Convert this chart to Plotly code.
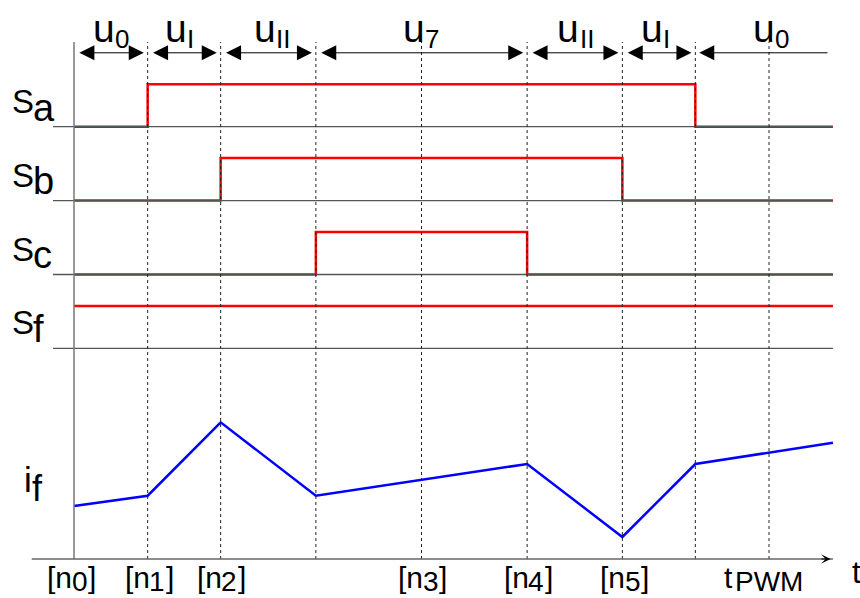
import plotly.graph_objects as go

# ---- data -------------------------------------------------------------
# switching instants over one PWM period, normalised so that t_PWM = 1
t_pts = [0.0, 0.106, 0.211, 0.348, 0.652, 0.789, 0.894, 1.0, 1.092]
t_n3 = 0.5
t_pwm = 1.0

# gate states (0 = off, 1 = on) held from each instant to the next
s_a = [0, 1, 1, 1, 1, 1, 0, 0, 0]
s_b = [0, 0, 1, 1, 1, 0, 0, 0, 0]
s_c = [0, 0, 0, 1, 0, 0, 0, 0, 0]
s_f = [1, 1, 1, 1, 1, 1, 1, 1, 1]

# filter current at the same instants (arbitrary units)
i_f = [5.3, 6.33, 13.67, 6.33, 9.5, 2.2, 9.5, 10.67, 11.63]

signal_subs = ["a", "b", "c", "f"]
vector_subs = ["0", "I", "II", "7", "II", "I", "0"]
sample_subs = ["0", "1", "2", "3", "4", "5"]
sample_t = [0.0, 0.106, 0.211, 0.5, 0.652, 0.789]

# ---- layout constants -------------------------------------------------
W, H = 860, 598
X0_PX, PX_PER_T = 74.0, 695.0          # t = 0 position and scale
TRACK_PX, BASE4_PX = 73.9, 126.7       # track spacing, S_a baseline
HIGH = 0.575                            # logic-high height in track units
AXIS_PX, I_PX = 559.0, 10.0            # time-axis row, px per current unit

x_range = [-X0_PX / PX_PER_T, (W - X0_PX) / PX_PER_T]
y_range = [4 - (H - BASE4_PX) / TRACK_PX, 4 + BASE4_PX / TRACK_PX]
y2_range = [(AXIS_PX - H) / I_PX, AXIS_PX / I_PX]

levels = [4, 3, 2, 1]
states = [s_a, s_b, s_c, s_f]
ROW_ARROW = 5.0
FRAME_TOP = (AXIS_PX - 42.0) / I_PX     # top of the vertical guide lines (y2)
BASE_START = -21.0 / PX_PER_T
AXIS_START = -42.3 / PX_PER_T
t_end = t_pts[-1]

RED, BLUE = "#ff0000", "#0000ff"
FONT = "Liberation Sans, Arial, sans-serif"

fig = go.Figure()

# gray track baselines
for lv in levels:
    fig.add_shape(type="line", xref="x", yref="y", x0=BASE_START, x1=t_end,
                  y0=lv, y1=lv, line=dict(color="#555555", width=1.3))

# dashed guides at switching instants, n3 and t_PWM
guides = t_pts[1:4] + [t_n3] + t_pts[4:8]
for tg in guides:
    fig.add_shape(type="line", xref="x", yref="y2", x0=tg, x1=tg,
                  y0=0, y1=FRAME_TOP, line=dict(color="#222222", width=1, dash="3px,3px"))

# solid left border and time axis
fig.add_shape(type="line", xref="x", yref="y2", x0=0, x1=0, y0=0, y1=FRAME_TOP,
              line=dict(color="#777777", width=1.5))
fig.add_shape(type="line", xref="x", yref="y2", x0=AXIS_START, x1=t_end, y0=0, y1=0,
              line=dict(color="#666666", width=1.5))

# gate signals
for lv, st in zip(levels, states):
    fig.add_trace(go.Scatter(x=t_pts, y=[lv + HIGH * s for s in st], mode="lines",
                             line=dict(color=RED, width=2.5, shape="hv"),
                             hoverinfo="skip", showlegend=False))

# filter current
fig.add_trace(go.Scatter(x=t_pts, y=i_f, yaxis="y2", mode="lines",
                         line=dict(color=BLUE, width=2.5),
                         hoverinfo="skip", showlegend=False))

# dimension arrows for the vector intervals
seg = t_pts[:7] + [t_end]
HEAD = 3.0
for k in range(7):
    left, right = seg[k], seg[k + 1]
    if k < 6:
        x, ax, side = right, left, "end+start"
    else:
        x, ax, side = left, right, "end"
    fig.add_annotation(x=x, y=ROW_ARROW, ax=ax, ay=ROW_ARROW, xref="x", yref="y",
                       axref="x", ayref="y", text="", showarrow=True,
                       arrowhead=2, startarrowhead=2, arrowsize=HEAD, startarrowsize=HEAD,
                       arrowwidth=1, arrowcolor="black", arrowside=side,
                       standoff=1.3 * HEAD, startstandoff=1.3 * HEAD)

# arrow tip on the time axis
fig.add_annotation(x=t_end, y=0, ax=t_end - 13 / PX_PER_T, ay=0, xref="x", yref="y2",
                   axref="x", ayref="y2", text="", showarrow=True, arrowhead=3,
                   arrowsize=1.6, arrowwidth=1, arrowcolor="black", standoff=2.4)


def put(text, x, y, size, dx, dy, anchor="left", yref="y"):
    """Place text with its baseline dy px below (x, y) and box edge dx px across."""
    fig.add_annotation(text=text, x=x, y=y, xref="x", yref=yref, showarrow=False,
                       xanchor=anchor, yanchor="middle", xshift=dx,
                       yshift=-(dy - 0.3465 * size), borderpad=1,
                       font=dict(family=FONT, size=size, color="black"))


# signal names
for lv, sub in zip(levels, signal_subs):
    put("S", 0, lv, 33, -64, -14)
    put(sub, 0, lv, 38, -43, -6)

# current name
put("i", 0, 0, 35, -52.3, -67, yref="y2")
put("f", 0, 0, 36, -43.7, -58, yref="y2")

# vector labels above the arrows
u_centres = [(seg[k] + seg[k + 1]) / 2 for k in range(6)] + [t_pwm]
u_nudge = [3, 2, 7, 2.5, 4, 3.5, 5]
for tc, sub, nd in zip(u_centres, vector_subs, u_nudge):
    put("u", tc, ROW_ARROW, 39, nd + 2.7, -10.8, anchor="right")
    put(sub, tc, ROW_ARROW, 26, nd - 1.2, -4.8)

# sample labels under the axis
n_nudge = [-3, 1, 0, 0.5, 0.5, 2]
for ts, sub, nd in zip(sample_t, sample_subs, n_nudge):
    put("[n", ts, 0, 30, nd + 3, 29, anchor="right", yref="y2")
    put(sub, ts, 0, 28, nd - 1.2, 32, yref="y2")
    put("]", ts, 0, 30, nd + 15, 29, yref="y2")

put("t", t_pwm, 0, 30, -34, 29, anchor="right", yref="y2")
put("PWM", t_pwm, 0, 28, -36.2, 32, yref="y2")
put("t", t_end, 0, 31, 17, 24, yref="y2")

fig.update_layout(
    width=W, height=H, margin=dict(l=0, r=0, t=0, b=0),
    paper_bgcolor="white", plot_bgcolor="white", showlegend=False,
    xaxis=dict(range=x_range, visible=False, fixedrange=True),
    yaxis=dict(range=y_range, visible=False, fixedrange=True),
    yaxis2=dict(range=y2_range, visible=False, fixedrange=True, overlaying="y"),
)

fig.write_html("out.html")
